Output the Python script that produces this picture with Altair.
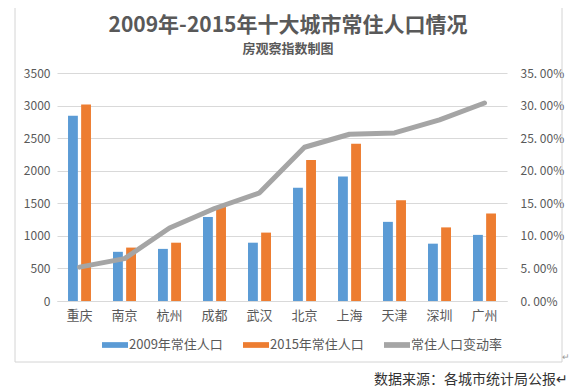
import altair as alt
import pandas as pd

cities = ["重庆", "南京", "杭州", "成都", "武汉", "北京", "上海", "天津", "深圳", "广州"]
pop2009 = [2845, 755, 800, 1290, 895, 1740, 1910, 1215, 880, 1015]
pop2015 = [3015, 820, 895, 1460, 1050, 2165, 2415, 1545, 1130, 1345]
rate = [0.052, 0.065, 0.112, 0.142, 0.166, 0.236, 0.256, 0.258, 0.278, 0.304]
series_names = ["2009年常住人口", "2015年常住人口", "常住人口变动率"]
left_ticks = [0, 500, 1000, 1500, 2000, 2500, 3000, 3500]
right_ticks = [0, 0.05, 0.1, 0.15, 0.2, 0.25, 0.3, 0.35]
title_text = "2009年-2015年十大城市常住人口情况"
subtitle_text = "房观察指数制图"
source_text = "数据来源：各城市统计局公报↵"
mark_text_small = "↵"

bars_df = pd.DataFrame({
    "city": cities * 2,
    "series": [series_names[0]] * len(cities) + [series_names[1]] * len(cities),
    "value": pop2009 + pop2015,
})
line_df = pd.DataFrame({"city": cities, "series": [series_names[2]] * len(cities), "rate": rate})

FONT = "Noto Sans CJK SC"
GRAY = "#595959"
FRAME = "#D4D4D4"

color = alt.Color(
    "series:N",
    scale=alt.Scale(domain=series_names, range=["#5B9BD5", "#ED7D31", "#A5A5A5"]),
    legend=alt.Legend(
        title=None, orient="none", legendX=45, legendY=259, direction="horizontal",
        symbolType="M-1,-0.22H1V0.22H-1Z", symbolSize=676, symbolStrokeWidth=0,
        labelFontSize=13, labelColor=GRAY, labelFont=FONT, columnPadding=20, labelOffset=1,
    ),
)

x_enc = alt.X(
    "city:N", sort=cities,
    scale=alt.Scale(paddingInner=0.49, paddingOuter=0.245),
    axis=alt.Axis(title=None, labelAngle=0, domainColor="#D9D9D9", ticks=False,
                  labelPadding=8, labelFontSize=13, labelColor=GRAY),
)

bars = alt.Chart(bars_df).mark_bar().encode(
    x=x_enc,
    xOffset=alt.XOffset("series:N", sort=series_names[:2], scale=alt.Scale(paddingInner=0.25)),
    y=alt.Y("value:Q", scale=alt.Scale(domain=[0, 3500]),
            axis=alt.Axis(values=left_ticks, format="d", title=None, domain=False, ticks=False,
                          gridColor="#D9D9D9", labelColor=GRAY, labelFontSize=12, labelPadding=7)),
    color=color,
)

line = alt.Chart(line_df).mark_line(strokeWidth=5, strokeCap="round", strokeJoin="round").encode(
    x=alt.X("city:N", sort=cities),
    y=alt.Y("rate:Q", scale=alt.Scale(domain=[0, 0.35]),
            axis=alt.Axis(orient="right", values=right_ticks, title=None, grid=False,
                          domain=False, ticks=False, labelPadding=13, labelFontSize=12,
                          labelColor=GRAY,
                          labelExpr="replace(format(datum.value, '.2%'), '.', '. ')")),
    color=alt.Color("series:N"),
)

one = pd.DataFrame({"a": [0]})
L, R, T, B = -42, 505, -71, 289


def frame_rule(**enc):
    return alt.Chart(one).mark_rule(color=FRAME, strokeWidth=1).encode(**enc)


frame = [
    frame_rule(x=alt.value(L), x2=alt.value(R), y=alt.value(T)),
    frame_rule(x=alt.value(L), x2=alt.value(R), y=alt.value(B)),
    frame_rule(x=alt.value(L), y=alt.value(T), y2=alt.value(B)),
    frame_rule(x=alt.value(R), y=alt.value(T), y2=alt.value(B)),
]

title = alt.Chart(pd.DataFrame({"t": [title_text]})).mark_text(
    align="center", baseline="middle", fontSize=21, fontWeight="bold", color=GRAY, font=FONT
).encode(text="t:N", x=alt.value(231), y=alt.value(-47))

subtitle = alt.Chart(pd.DataFrame({"t": [subtitle_text]})).mark_text(
    align="center", baseline="middle", fontSize=13, fontWeight="bold", color=GRAY, font=FONT
).encode(text="t:N", x=alt.value(231), y=alt.value(-24))

source = alt.Chart(pd.DataFrame({"t": [source_text]})).mark_text(
    align="right", baseline="middle", fontSize=14, color="#333333", font=FONT
).encode(text="t:N", x=alt.value(511), y=alt.value(307))

small_mark = alt.Chart(pd.DataFrame({"t": [mark_text_small]})).mark_text(
    align="center", baseline="middle", fontSize=9, color="#999999", font=FONT
).encode(text="t:N", x=alt.value(509), y=alt.value(284))

chart = alt.layer(*frame, title, subtitle, bars, line, source, small_mark).resolve_scale(
    y="independent"
).properties(
    width=450, height=228,
    autosize=alt.AutoSizeParams(type="none"),
    padding={"left": 49, "top": 65, "right": 62, "bottom": 88},
).configure(font=FONT).configure_view(stroke=None).configure_axis(labelFont=FONT)

chart.save("out.html", embed_options={"renderer": "svg", "actions": False})
